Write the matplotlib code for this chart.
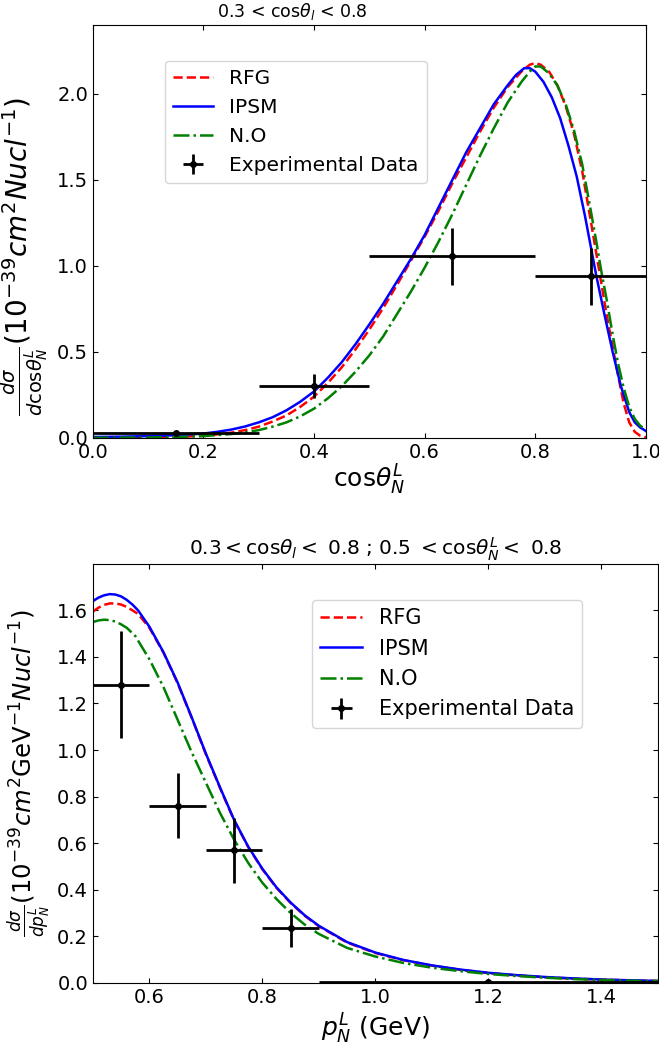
import numpy as np
import matplotlib
matplotlib.use("Agg")
import matplotlib.pyplot as plt

# top panel: d sigma / d cos theta_N^L
x_rfg_a = [0.0, 0.1, 0.15, 0.2, 0.225, 0.25, 0.275, 0.3, 0.325, 0.35, 0.375, 0.4, 0.425, 0.45, 0.475, 0.5,
           0.525, 0.55, 0.575, 0.6, 0.625, 0.65, 0.675, 0.7, 0.725, 0.75, 0.775, 0.79, 0.8, 0.81, 0.825,
           0.84, 0.855, 0.87, 0.885, 0.9, 0.91, 0.92, 0.93, 0.94, 0.95, 0.96, 0.97, 0.98, 0.99, 1.0]
y_rfg_a = [0.0, 0.002, 0.005, 0.012, 0.02, 0.03, 0.045, 0.065, 0.095, 0.13, 0.18, 0.24, 0.32, 0.41, 0.515, 0.63,
           0.755, 0.89, 1.03, 1.17, 1.32, 1.48, 1.63, 1.78, 1.92, 2.04, 2.13, 2.17, 2.18, 2.17, 2.13,
           2.05, 1.93, 1.77, 1.55, 1.27, 1.08, 0.89, 0.70, 0.53, 0.36, 0.20, 0.09, 0.035, 0.012, 0.003]
x_ipsm_a = [0.0, 0.05, 0.1, 0.15, 0.2, 0.225, 0.25, 0.275, 0.3, 0.325, 0.35, 0.375, 0.4, 0.425, 0.45, 0.475,
            0.5, 0.525, 0.55, 0.575, 0.6, 0.625, 0.65, 0.675, 0.7, 0.725, 0.75, 0.765, 0.78, 0.79, 0.8,
            0.815, 0.83, 0.845, 0.86, 0.875, 0.89, 0.9, 0.91, 0.925, 0.94, 0.955, 0.97, 0.98, 0.99, 1.0]
y_ipsm_a = [0.005, 0.007, 0.01, 0.015, 0.025, 0.035, 0.048, 0.066, 0.09, 0.12, 0.16, 0.21, 0.27, 0.35, 0.44, 0.545,
            0.66, 0.78, 0.91, 1.04, 1.18, 1.34, 1.5, 1.66, 1.8, 1.94, 2.05, 2.11, 2.15, 2.15, 2.13,
            2.07, 1.98, 1.86, 1.70, 1.52, 1.29, 1.12, 0.95, 0.72, 0.50, 0.30, 0.15, 0.09, 0.06, 0.04]
x_no_a = [0.0, 0.1, 0.15, 0.2, 0.25, 0.275, 0.3, 0.325, 0.35, 0.375, 0.4, 0.425, 0.45, 0.475, 0.5, 0.525,
          0.55, 0.575, 0.6, 0.625, 0.65, 0.675, 0.7, 0.725, 0.75, 0.775, 0.79, 0.8, 0.81, 0.825, 0.84,
          0.855, 0.87, 0.885, 0.9, 0.91, 0.92, 0.93, 0.94, 0.95, 0.96, 0.97, 0.98, 0.99, 1.0]
y_no_a = [0.0, 0.002, 0.005, 0.01, 0.022, 0.032, 0.045, 0.065, 0.09, 0.125, 0.17, 0.23, 0.30, 0.385, 0.48, 0.59,
          0.72, 0.85, 0.99, 1.14, 1.3, 1.47, 1.64, 1.80, 1.95, 2.07, 2.13, 2.16, 2.16, 2.12, 2.05,
          1.94, 1.79, 1.59, 1.33, 1.15, 0.96, 0.79, 0.60, 0.43, 0.29, 0.18, 0.11, 0.07, 0.05]

data_x_a = [0.15, 0.4, 0.65, 0.9]
data_y_a = [0.03, 0.30, 1.055, 0.94]
data_xerr_a = [0.15, 0.1, 0.15, 0.1]
data_yerr_a = [0.01, 0.07, 0.165, 0.165]

# bottom panel: d sigma / d p_N^L
x_rfg_b = [0.5, 0.51, 0.52, 0.53, 0.54, 0.55, 0.56, 0.57, 0.58, 0.6, 0.625, 0.65, 0.675, 0.7, 0.725, 0.75,
           0.775, 0.8, 0.825, 0.85, 0.875, 0.9, 0.95, 1.0, 1.05, 1.1, 1.15, 1.2, 1.25, 1.3, 1.35, 1.4, 1.45, 1.5]
y_rfg_b = [1.595, 1.612, 1.624, 1.63, 1.63, 1.625, 1.615, 1.60, 1.585, 1.525, 1.418, 1.287, 1.138, 0.982, 0.837, 0.698,
           0.583, 0.488, 0.408, 0.343, 0.288, 0.243, 0.173, 0.128, 0.097, 0.074, 0.056, 0.042, 0.032, 0.024, 0.018, 0.014, 0.010, 0.008]
x_ipsm_b = [0.5, 0.51, 0.52, 0.53, 0.54, 0.55, 0.56, 0.57, 0.58, 0.6, 0.625, 0.65, 0.675, 0.7, 0.725, 0.75,
            0.775, 0.8, 0.825, 0.85, 0.875, 0.9, 0.95, 1.0, 1.05, 1.1, 1.15, 1.2, 1.25, 1.3, 1.35, 1.4, 1.45, 1.5]
y_ipsm_b = [1.64, 1.655, 1.665, 1.67, 1.668, 1.66, 1.645, 1.625, 1.60, 1.53, 1.42, 1.29, 1.14, 0.985, 0.84, 0.70,
            0.585, 0.49, 0.41, 0.345, 0.29, 0.245, 0.175, 0.13, 0.098, 0.075, 0.057, 0.043, 0.033, 0.025, 0.019, 0.014, 0.011, 0.008]
x_no_b = [0.5, 0.51, 0.52, 0.53, 0.54, 0.55, 0.56, 0.575, 0.6, 0.625, 0.65, 0.675, 0.7, 0.725, 0.75, 0.775,
          0.8, 0.825, 0.85, 0.875, 0.9, 0.95, 1.0, 1.05, 1.1, 1.15, 1.2, 1.25, 1.3, 1.35, 1.4, 1.45, 1.5]
y_no_b = [1.55, 1.557, 1.56, 1.558, 1.552, 1.54, 1.525, 1.49, 1.39, 1.27, 1.13, 0.99, 0.86, 0.73, 0.615, 0.515,
          0.43, 0.36, 0.30, 0.25, 0.21, 0.15, 0.113, 0.085, 0.065, 0.05, 0.038, 0.029, 0.022, 0.016, 0.012, 0.009, 0.007]

data_x_b = [0.55, 0.65, 0.75, 0.85, 1.2]
data_y_b = [1.28, 0.76, 0.57, 0.235, 0.003]
data_xerr_b = [0.05, 0.05, 0.05, 0.05, 0.3]
data_yerr_b = [0.23, 0.14, 0.14, 0.08, 0.01]

fig = plt.figure(figsize=(6.59, 10.5), dpi=100)
ax1 = fig.add_axes([0.141, 0.583, 0.839, 0.393])
ax2 = fig.add_axes([0.141, 0.064, 0.857, 0.399])

lw = 1.8
for ax, xs, ys, dat in [
    (ax1, (x_rfg_a, x_ipsm_a, x_no_a), (y_rfg_a, y_ipsm_a, y_no_a),
     (data_x_a, data_y_a, data_xerr_a, data_yerr_a)),
    (ax2, (x_rfg_b, x_ipsm_b, x_no_b), (y_rfg_b, y_ipsm_b, y_no_b),
     (data_x_b, data_y_b, data_xerr_b, data_yerr_b)),
]:
    ax.plot(xs[0], ys[0], "r--", lw=lw, label="RFG")
    ax.plot(xs[1], ys[1], "b-", lw=lw, label="IPSM")
    ax.plot(xs[2], ys[2], "g-.", lw=lw, label="N.O")
    ax.errorbar(dat[0], dat[1], xerr=dat[2], yerr=dat[3], fmt="o", color="k",
                ms=4, elinewidth=2, capsize=0, label="Experimental Data")
    ax.tick_params(direction="in", top=True, right=True, labelsize=14)

ax1.set_xlim(0, 1.0)
ax1.set_ylim(0, 2.4)
ax1.set_xticks(np.arange(0, 1.01, 0.2))
ax1.set_yticks(np.arange(0, 2.01, 0.5))
ax1.set_title(r"0.3 < cos$\theta_l$ < 0.8", fontsize=12.5, x=0.36)
ax1.set_xlabel(r"$\mathrm{cos}\theta_N^L$", fontsize=18, labelpad=1)
ax1.set_ylabel(r"$\frac{d\sigma}{d\mathrm{cos}\theta_N^L}(10^{-39}cm^2Nucl^{-1})$", fontsize=20)
ax1.yaxis.set_label_coords(-0.078, 0.44)
ax1.legend(loc="upper left", bbox_to_anchor=(0.13, 0.913), borderaxespad=0, fontsize=14.5)

ax2.set_xlim(0.5, 1.5)
ax2.set_ylim(0, 1.8)
ax2.set_xticks(np.arange(0.6, 1.41, 0.2))
ax2.set_yticks(np.arange(0, 1.61, 0.2))
ax2.set_title(r"$0.3 < \mathrm{cos}\theta_l <$ 0.8 ; 0.5 $ < \mathrm{cos}\theta_N^L <$ 0.8", fontsize=14.5)
ax2.set_xlabel(r"$p_N^L$ (GeV)", fontsize=18)
ax2.set_ylabel(r"$\frac{d\sigma}{dp_N^L}(10^{-39}cm^2\mathrm{GeV}^{-1}Nucl^{-1})$", fontsize=17.5)
ax2.legend(loc="upper left", bbox_to_anchor=(0.388, 0.914), borderaxespad=0, fontsize=15)

fig.savefig("out.png", dpi=100)
